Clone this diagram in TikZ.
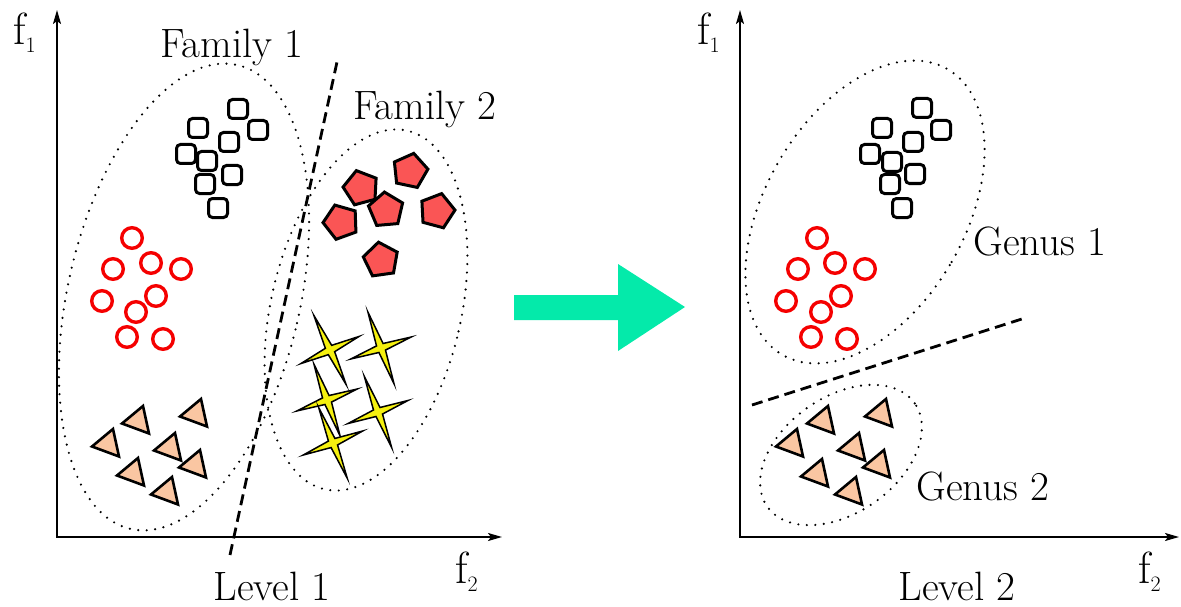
\documentclass[tikz,border=0pt]{standalone}
\usetikzlibrary{arrows.meta,shapes.geometric}
\definecolor{myred}{RGB}{245,0,0}
\definecolor{peach}{RGB}{250,198,162}
\definecolor{pentred}{RGB}{250,85,85}
\definecolor{staryel}{RGB}{245,240,15}
\definecolor{arrowgreen}{RGB}{4,234,170}
\newcommand\fsub[1]{f\raisebox{-8pt}{\fontsize{22}{24}\selectfont #1}}
\begin{document}
\begin{tikzpicture}[x=1pt,y=-1pt,
  lbl/.style={font=\fontsize{41}{44}\selectfont, inner sep=0pt, anchor=base},
  flbl/.style={font=\fontsize{45}{48}\selectfont, inner sep=0pt, anchor=base west},
  axis/.style={line width=1.8pt, {Stealth[length=14pt,width=8pt,inset=3pt]}-{Stealth[length=14pt,width=8pt,inset=3pt]}},
  dotline/.style={line width=2.4pt, line cap=round, dash pattern=on 0pt off 8.5pt},
  dline/.style={line width=2.8pt, dash pattern=on 11pt off 6pt},
  sq/.style={line width=3pt, rounded corners=4pt},
  circ/.style={draw=myred, line width=3.4pt},
  tri/.style={draw=black, fill=peach, line width=2.6pt},
  pent/.style={regular polygon, regular polygon sides=5, minimum size=36pt, inner sep=0pt, draw=black, fill=pentred, line width=3pt},
  fstar/.style={draw=black, fill=staryel, line width=1.5pt},
  bigarrow/.style={fill=arrowgreen, draw=none}
]
\useasboundingbox (0,0) rectangle (1181,607);

% axes
\coordinate (Y1) at (57,10); \coordinate (O1) at (57,537); \coordinate (X1) at (502,537);
\coordinate (Y2) at (740,10); \coordinate (O2) at (740,537); \coordinate (X2) at (1179,537);
\draw[axis] (Y1) -- (O1) -- (X1);
\draw[axis] (Y2) -- (O2) -- (X2);
\node[flbl] (f1a) at (13,45) {\fsub{1}};
\node[flbl] (f2a) at (455,583) {\fsub{2}};
\node[flbl] (f1b) at (697,45) {\fsub{1}};
\node[flbl] (f2b) at (1138,583) {\fsub{2}};

% ellipses
\draw[dotline, rotate around={-13:(184,297)}] (184,297) ellipse [x radius=116pt, y radius=238pt];
\draw[dotline, rotate around={-13:(366,310)}] (366,310) ellipse [x radius=95pt, y radius=184pt];
\draw[dotline, rotate around={-30:(865,212)}] (865,212) ellipse [x radius=100pt, y radius=165pt];
\draw[dotline, rotate around={35:(841,455)}] (841,455) ellipse [x radius=90pt, y radius=58pt];

% dashed separators
\coordinate (d1a) at (230,555); \coordinate (d1b) at (337,62);
\coordinate (d2a) at (752,405); \coordinate (d2b) at (1025,318);
\draw[dline] (d1a) -- (d1b);
\draw[dline] (d2a) -- (d2b);

% squares
\foreach \x/\y in {238/109,198/128,258/130,229/142,186/154,207/161,232/175,205/184,218/208,
                   922/108,882/128,941/130,913/142,870/154,892/162,915/174,890/184,902/208}
  \draw[sq] (\x-9.5,\y-9.5) rectangle (\x+9.5,\y+9.5);

% circles
\foreach \x/\y in {132/238,151/263,113/269,181/269,156/296,102/301,136/312,127/337,163/339,
                   817/238,835/263,798/269,865/269,841/296,786/301,821/312,811/337,847/339}
  \draw[circ] (\x,\y) circle[radius=10.3pt];

% triangles
\foreach \x/\y in {138/421,196/414,108/444,170/448,133/473,195/465,167/492,
                   823/421,881/414,792/444,854/448,817/474,879/465,851/492}
  \draw[tri, shift={(\x,\y)}] (-16,2.5) -- (5,-15) -- (11,12.5) -- cycle;

% pentagons
\foreach \x/\y/\r/\n in {361/188/15/1,410/171/-12/2,386/210/5/3,341/222/20/4,437/211/-15/5,381/260/8/6}
  \node[pent, regular polygon rotate=\r] (pent\n) at (\x,\y) {};

% stars
\foreach \x/\y/\r in {330/350/25,381/348/20,327/400/20,378/412/21,333/443/22}
  \draw[fstar, shift={(\x,\y)}, rotate=\r] (0,-38) -- (3.5,-3.5) -- (32,0) -- (3.5,3.5) -- (0,38) -- (-3.5,3.5) -- (-32,0) -- (-3.5,-3.5) -- cycle;

% big arrow
\fill[bigarrow] (514,295) -- (618,295) -- (618,264) -- (685,307) -- (618,351) -- (618,320) -- (514,320) -- cycle;

% labels
\node[lbl] (fam1) at (232,58) {Family 1};
\node[lbl] (fam2) at (425,120) {Family 2};
\node[lbl] (gen1) at (1040,255) {Genus 1};
\node[lbl] (gen2) at (983,500) {Genus 2};
\node[lbl] (lev1) at (272,600) {Level 1};
\node[lbl] (lev2) at (957,600) {Level 2};
\end{tikzpicture}
\end{document}
